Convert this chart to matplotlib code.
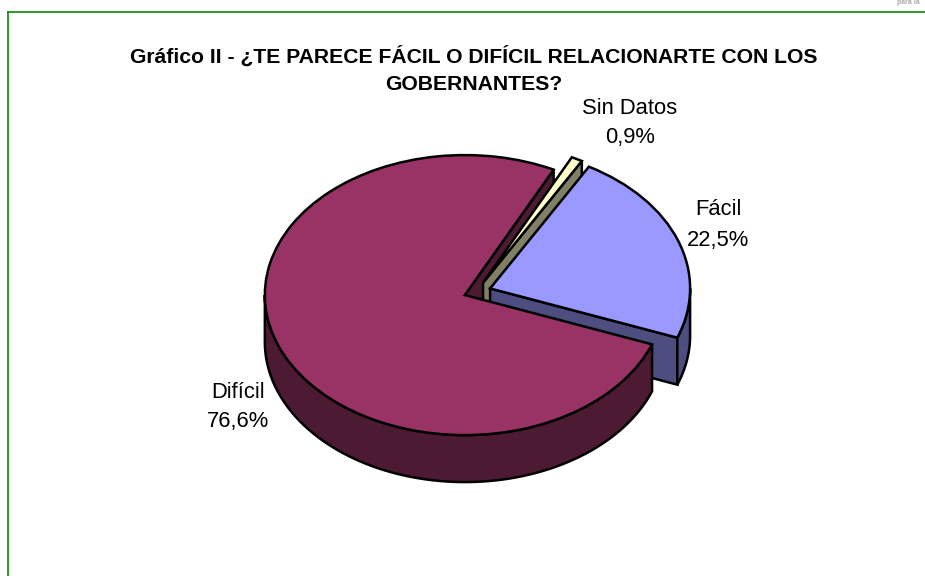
import numpy as np
import matplotlib
matplotlib.use("Agg")
import matplotlib.pyplot as plt
from matplotlib.lines import Line2D

plt.rcParams['font.family'] = ['Liberation Sans', 'DejaVu Sans']

W, H = 925, 576
categories = ["Fácil", "Difícil", "Sin Datos"]
values = [22.5, 76.6, 0.9]
value_labels = ["22,5%", "76,6%", "0,9%"]
title_lines = ["Gráfico II - ¿TE PARECE FÁCIL O DIFÍCIL RELACIONARTE CON LOS", "GOBERNANTES?"]
top_colors = ["#9999FF", "#993366", "#FFFFCC"]
side_colors = ["#4D4D80", "#4D1A33", "#808066"]
explode = [0.075, 0.06, 0.075]

CX, CY, RX, RY, DEPTH = 476, 292, 200, 140, 47 / 140
START = 90 - 29.6
EDGE = 1.8

fig = plt.figure(figsize=(W / 100, H / 100), dpi=100, facecolor="white")
ax = fig.add_axes([0, 0, 1, 1])
wedges, _ = ax.pie(values, explode=explode, startangle=START, counterclock=False,
                   colors=top_colors,
                   wedgeprops=dict(edgecolor="black", linewidth=EDGE, joinstyle="miter"))
ax.set_aspect("auto")
ax.set_xlim(-CX / RX, (W - CX) / RX)
ax.set_ylim((CY - H) / RY, CY / RY)
ax.axis("off")


def radial_face(w, theta, color, z):
    c = np.array(w.center)
    e = c + w.r * np.array([np.cos(np.radians(theta)), np.sin(np.radians(theta))])
    pts = [c, e, e - [0, DEPTH], c - [0, DEPTH]]
    ax.fill(*zip(*pts), facecolor=color, edgecolor="black", lw=EDGE, zorder=z, joinstyle="miter")


def rim_face(w, a, b, color, z):
    t = np.radians(np.linspace(a, b, 80))
    x = w.center[0] + w.r * np.cos(t)
    y = w.center[1] + w.r * np.sin(t)
    ax.fill(np.r_[x, x[::-1]], np.r_[y, y[::-1] - DEPTH], facecolor=color,
            edgecolor="black", lw=EDGE, zorder=z, joinstyle="miter")


facil, dificil, sin_datos = wedges
# Clockwise pie: theta1 is the far end of each wedge, theta2 the near end
f1 = facil.theta1
d1, d2 = dificil.theta1, dificil.theta2
s1 = sin_datos.theta1

radial_face(dificil, d1, side_colors[1], 1)
radial_face(sin_datos, s1, side_colors[2], 2)
sin_datos.set_zorder(3)
radial_face(facil, f1, side_colors[0], 4)
rim_face(facil, f1, 0, side_colors[0], 5)
facil.set_zorder(6)
rim_face(dificil, -180, d2, side_colors[1], 7)
dificil.set_zorder(8)


def txt(x, y, s, **kw):
    fig.text(x / W, 1 - y / H, s, ha="center", va="center", **kw)


txt(474, 56.5, title_lines[0], fontsize=15.25, fontweight="bold", color="black")
txt(474, 85, title_lines[1], fontsize=15.25, fontweight="bold", color="black")
LABEL = 15.8
txt(630, 108, categories[2], fontsize=LABEL)
txt(630, 137, value_labels[2], fontsize=LABEL)
txt(718, 210, categories[0], fontsize=LABEL)
txt(718, 240, value_labels[0], fontsize=LABEL)
txt(238, 392, categories[1], fontsize=LABEL)
txt(238, 421, value_labels[1], fontsize=LABEL)
txt(908, 3, "para la", fontsize=5, fontweight="bold", color="#aaaaaa")

green = "#1E8C1E"
fig.add_artist(Line2D([7.5 / W, 7.5 / W], [0, 1 - 11.5 / H], color=green, lw=1.3, transform=fig.transFigure))
fig.add_artist(Line2D([7.5 / W, 1], [1 - 11.5 / H, 1 - 11.5 / H], color=green, lw=1.3, transform=fig.transFigure))

fig.savefig("out.png", dpi=100)
